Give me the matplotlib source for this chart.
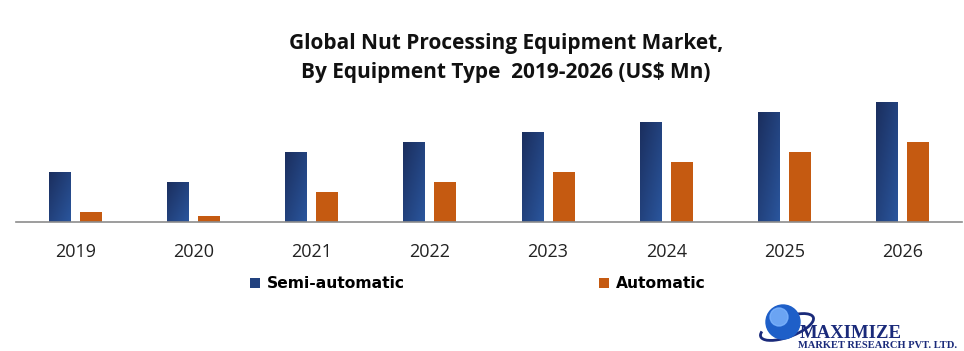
import matplotlib
matplotlib.use("Agg")
import matplotlib.pyplot as plt
import numpy as np
from matplotlib.patches import Patch, Circle, Arc

years = ["2019", "2020", "2021", "2022", "2023", "2024", "2025", "2026"]
semi_automatic = [50, 40, 70, 80, 90, 100, 110, 120]
automatic = [10, 6, 30, 40, 50, 60, 70, 80]

title = "Global Nut Processing Equipment Market,\nBy Equipment Type  2019-2026 (US$ Mn)"

fig = plt.figure(figsize=(9.64, 3.51), dpi=100)
ax = fig.add_axes([16/964, 1-222/351, 946/964, 132/351])

x = np.arange(len(years))
w = 0.186
off = 15.5/118.25
b1 = ax.bar(x - off, semi_automatic, w, color="#22427f", zorder=2)
b2 = ax.bar(x + off, automatic, w, color="#c55a11", zorder=2)

# gradient for semi-automatic bars
grad = np.zeros((20, 20, 3))
c1 = np.array([0x1b, 0x2f, 0x5f]) / 255
c2 = np.array([0x2a, 0x55, 0x9c]) / 255
for i in range(20):
    for j in range(20):
        t = (i + j) / 38
        grad[i, j] = c1 * (1 - t) + c2 * t
for r in b1:
    r.set_facecolor("none")
    im = ax.imshow(grad, extent=[r.get_x(), r.get_x() + r.get_width(), 0, r.get_height()],
                   aspect="auto", zorder=2, interpolation="bilinear")
    im.set_clip_path(r)

ax.set_xlim(-0.5, len(years) - 0.5)
ax.set_ylim(0, 132)
for s in ["top", "right", "left"]:
    ax.spines[s].set_visible(False)
ax.spines["bottom"].set_color("#8c8c8c")
ax.spines["bottom"].set_linewidth(1.2)
ax.set_yticks([])
ax.set_xticks(x)
ax.set_xticklabels(years, fontsize=13, family=["Open Sans", "DejaVu Sans"], color="#222222")
ax.tick_params(axis="x", length=0, pad=15)

fig.text(506/964, 1 - 58/351, title, ha="center", va="center", fontsize=15.0,
         fontweight="bold", family=["Open Sans", "DejaVu Sans"],
         linespacing=1.55, color="#111111")

handles = [Patch(facecolor="#22427f", label="Semi-automatic"),
           Patch(facecolor="#c55a11", label="Automatic")]
leg = fig.legend(handles=handles, loc="center left", bbox_to_anchor=(236/964, 1 - 284/351),
                 ncol=2, frameon=False, handlelength=0.65, handleheight=0.65,
                 handletextpad=0.45, columnspacing=12.45,
                 prop={"family": ["DejaVu Sans"], "weight": "bold", "size": 11.2})

# logo
lax = fig.add_axes([740/964, 0, 224/964, 56/351])
lax.set_xlim(740, 964)
lax.set_ylim(351, 295)
lax.axis("off")
lax.add_patch(Arc((787, 327), 56, 20, angle=-20, theta1=-40, theta2=190, ec="#1a2a7a", lw=2.0))
lax.add_patch(Circle((783, 322), 17, color="#1e5fc8"))
lax.add_patch(Circle((779, 317), 9, color="#7fb6ff", alpha=0.8))
lax.text(800, 334, "MAXIMIZE", fontsize=13.5, family=["Liberation Serif", "DejaVu Serif"],
         fontweight="bold", color="#1a2a7a", va="center", ha="left")
lax.text(798, 345.5, "MARKET RESEARCH PVT. LTD.", fontsize=7.6, family=["Liberation Serif", "DejaVu Serif"],
         fontweight="bold", color="#1a2a7a", va="center", ha="left")

fig.savefig("out.png", dpi=100)
